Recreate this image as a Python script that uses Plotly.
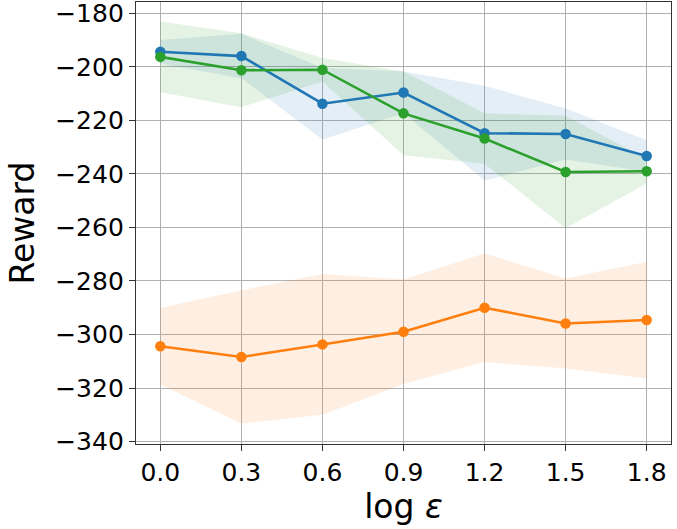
import numpy as np
import plotly.graph_objects as go

# log epsilon values on the x axis
log_eps = [0.0, 0.3, 0.6, 0.9, 1.2, 1.5, 1.8]

# mean reward and spread for each method
blue_mean = [-194.4, -196.0, -213.8, -209.6, -224.8, -225.1, -233.3]
blue_std = [4.4, 8.3, 13.4, 7.8, 17.7, 9.5, 5.9]

orange_mean = [-304.4, -308.4, -303.7, -299.0, -290.0, -295.9, -294.6]
orange_std = [14.3, 24.9, 26.3, 19.5, 20.3, 16.8, 21.8]

green_mean = [-196.3, -201.3, -201.1, -217.4, -226.8, -239.3, -239.0]
green_std = [13.2, 13.8, 4.4, 15.6, 9.4, 21.0, 4.6]

x_ticks = [0.0, 0.3, 0.6, 0.9, 1.2, 1.5, 1.8]
y_ticks = [-340, -320, -300, -280, -260, -240, -220, -200, -180]

series = [
    (blue_mean, blue_std, '#1f77b4', 'rgba(31,119,180,0.12)'),
    (orange_mean, orange_std, '#ff7f0e', 'rgba(255,127,14,0.12)'),
    (green_mean, green_std, '#2ca02c', 'rgba(44,160,44,0.12)'),
]

fig = go.Figure()

# shaded bands first so every line sits on top of them
for mean, std, color, fill in series:
    m = np.array(mean)
    s = np.array(std)
    upper = m + s
    lower = m - s
    fig.add_trace(go.Scatter(
        x=log_eps + log_eps[::-1],
        y=list(upper) + list(lower[::-1]),
        fill='toself', fillcolor=fill,
        line=dict(width=0), mode='lines',
        hoverinfo='skip', showlegend=False,
    ))

for mean, std, color, fill in series:
    fig.add_trace(go.Scatter(
        x=log_eps, y=mean, mode='lines+markers',
        line=dict(color=color, width=2.6),
        marker=dict(color=color, size=10.5),
        showlegend=False,
    ))

axis_style = dict(
    showgrid=True, gridcolor='#b0b0b0', gridwidth=1.3,
    showline=True, linecolor='#333333', linewidth=1.3, mirror=True,
    ticks='outside', ticklen=6, tickwidth=1.3, tickcolor='#333333',
    tickfont=dict(size=25, color='black'),
    ticklabeloverflow='allow',
    zeroline=False,
)

fig.update_layout(
    width=677, height=529,
    margin=dict(l=136, r=6, t=2, b=85, autoexpand=False),
    paper_bgcolor='white', plot_bgcolor='white',
    font=dict(family='DejaVu Sans', color='black'),
    xaxis=dict(
        range=[-0.09, 1.89], tickvals=x_ticks,
        ticktext=[f'{v:.1f}' for v in x_ticks],
        title=dict(text='log <i>ε</i>', font=dict(size=33), standoff=8),
        **axis_style,
    ),
    yaxis=dict(
        range=[-340.9, -175.8], tickvals=y_ticks,
        ticktext=[f'\u2212{abs(v)}' for v in y_ticks],
        title=dict(text='Reward', font=dict(size=33), standoff=10),
        **axis_style,
    ),
)

# drop the browser's default page margin so the figure starts at the corner
fig.write_html("out.html", config={'displayModeBar': False},
               post_script="document.body.style.margin='0';")
